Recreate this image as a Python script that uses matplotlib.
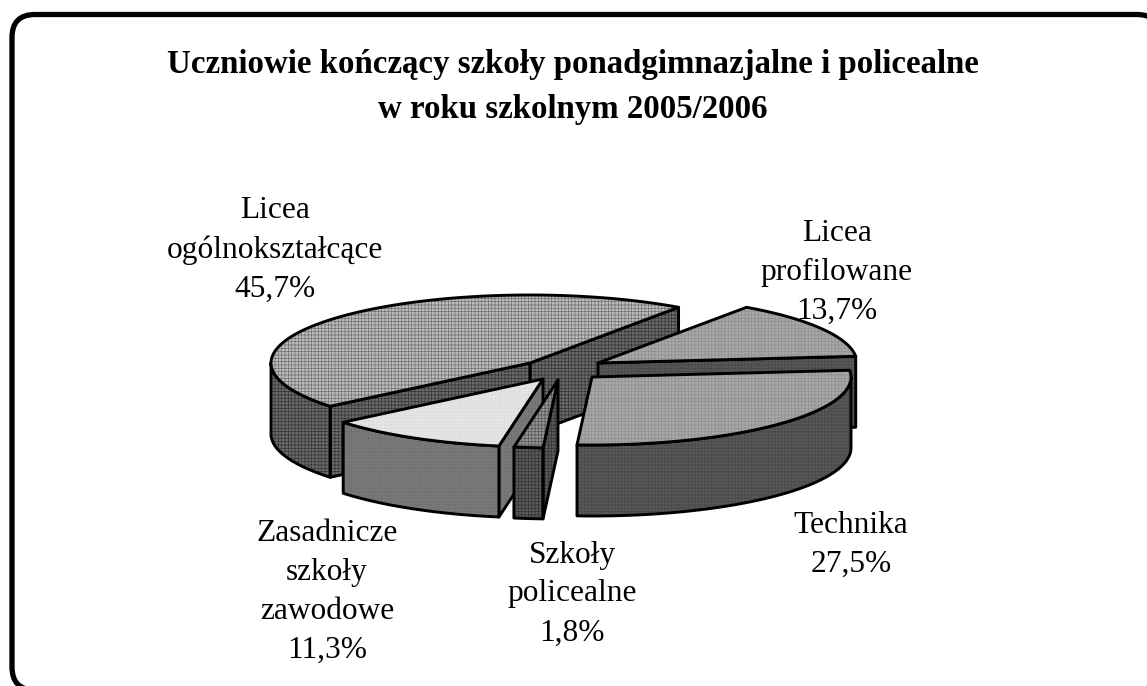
import numpy as np
import matplotlib
matplotlib.use("Agg")
import matplotlib.pyplot as plt
from matplotlib.patches import Polygon, FancyBboxPatch

plt.rcParams['font.family'] = ['Liberation Serif', 'DejaVu Serif']
plt.rcParams['hatch.linewidth'] = 0.5

title = "Uczniowie kończący szkoły ponadgimnazjalne i policealne\nw roku szkolnym 2005/2006"
categories = ["Licea\nogólnokształcące", "Zasadnicze\nszkoły\nzawodowe", "Szkoły\npolicealne",
              "Technika", "Licea\nprofilowane"]
shares = [45.7, 11.3, 1.8, 27.5, 13.7]

# layout of the fake 3d pie, in pixels
start_angle = 55
rx, ry, depth = 259, 68, 71
apex = [(530, 363), (543, 379), (558, 380), (592, 377), (598, 363)]
label_pos = [(275, 250), (327, 592), (572, 594), (851, 545), (837, 272)]

top_col = ['#bcbcbc', '#e6e6e6', '#929292', '#a8a8a8', '#a8a8a8']
top_grid = ['#707070', '#dcdcdc', '#555555', '#909090', '#909090']
wall_col = ['#6a6a6a', '#7a7a7a', '#5a5a5a', '#585858', '#585858']
wall_grid = ['#353535', '#707070', '#333333', '#484848', '#484848']
draw_order = [0, 4, 3, 1, 2]

fig = plt.figure(figsize=(11.47, 6.86), dpi=100)
ax = fig.add_axes([0, 0, 1, 1])
ax.set_xlim(0, 1147)
ax.set_ylim(686, 0)
ax.axis('off')

frame = FancyBboxPatch((12, 14.5), 1148, 675.5, boxstyle="round,pad=0,rounding_size=23",
                       fc='white', ec='black', lw=3.8)
ax.add_patch(frame)


def arc(cx, cy, a0, a1):
    t = np.radians(np.linspace(a0, a1, 90))
    return np.column_stack([cx + rx * np.cos(t), cy - ry * np.sin(t)])


def face(pts, col, grid):
    ax.add_patch(Polygon(pts, closed=True, fc=col, ec=grid, lw=0, hatch='+++++'))
    ax.add_patch(Polygon(pts, closed=True, fc='none', ec='black', lw=2.1, joinstyle='round'))


angles = np.cumsum([0] + shares) * 3.6 + start_angle
down = np.array([0, depth])

for i in draw_order:
    a0, a1 = angles[i], angles[i + 1]
    c = np.array(apex[i])
    # cut faces, only the ones turned towards the viewer
    walls = []
    if np.cos(np.radians(a0)) > 0:
        walls.append(a0)
    if np.cos(np.radians(a1)) < 0:
        walls.append(a1)
    for a in walls:
        edge = arc(c[0], c[1], a, a)[0]
        face([c, edge, edge + down, c + down], wall_col[i], wall_grid[i])
    lo, hi = max(a0, 180), min(a1, 360)
    if lo < hi:
        rim = arc(c[0], c[1], lo, hi)
        face(np.vstack([rim, rim[::-1] + down]), wall_col[i], wall_grid[i])
    face(np.vstack([c, arc(c[0], c[1], a0, a1)]), top_col[i], top_grid[i])

ax.text(573, 87, title, ha='center', va='center', fontsize=23.7, fontweight='bold', linespacing=1.6)

for name, share, pos in zip(categories, shares, label_pos):
    txt = name + "\n" + f"{share:.1f}%".replace('.', ',')
    ax.text(pos[0], pos[1], txt, ha='center', va='center', fontsize=22.6, linespacing=1.45)

plt.savefig("out.png", dpi=100)
